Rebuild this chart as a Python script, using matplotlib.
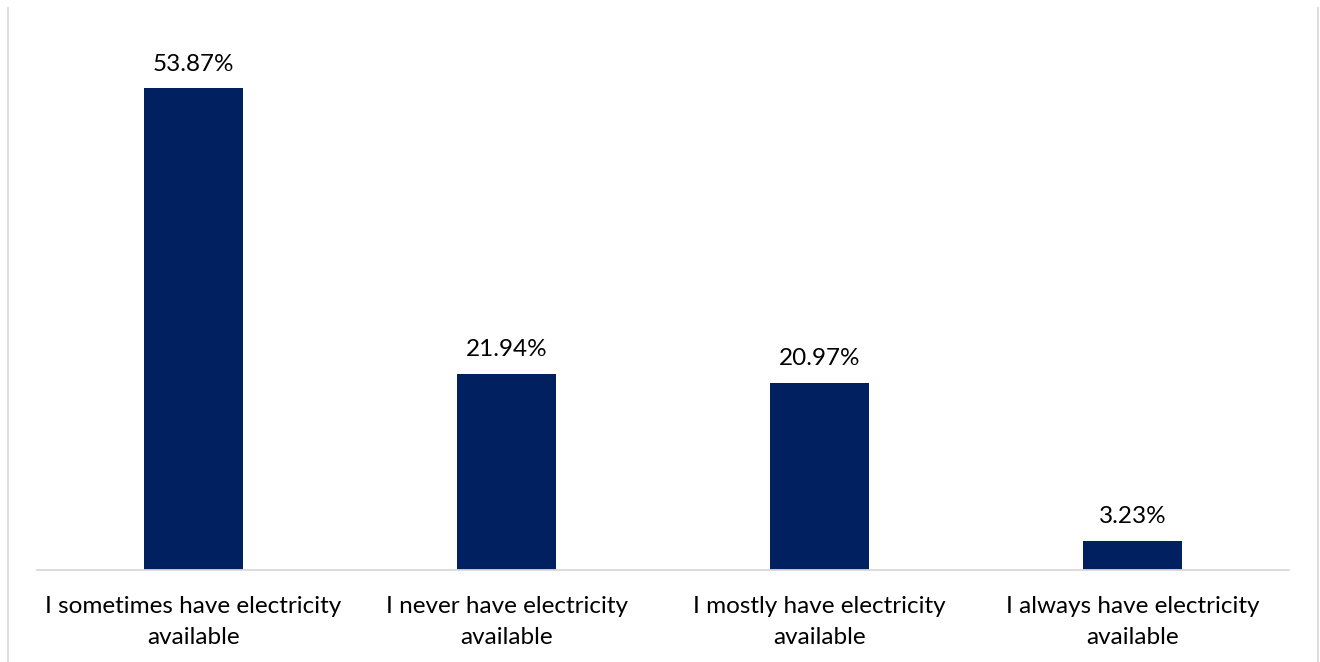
import matplotlib
matplotlib.use("Agg")
import matplotlib.pyplot as plt
from matplotlib.lines import Line2D

categories = ["I sometimes have electricity\navailable",
              "I never have electricity\navailable",
              "I mostly have electricity\navailable",
              "I always have electricity\navailable"]
values = [53.87, 21.94, 20.97, 3.23]
value_labels = ["53.87%", "21.94%", "20.97%", "3.23%"]

plt.rcParams['font.family'] = ['Lato', 'DejaVu Sans']

W, H = 1320, 662
fig = plt.figure(figsize=(W/100, H/100), dpi=100)
ax = fig.add_axes([37/W, (H-570)/H, (1289-37)/W, (570-33.6)/H])

x = range(len(values))
bars = ax.bar(x, values, width=0.316, color="#002060", zorder=2)
ax.set_xlim(-0.5, len(values)-0.5)
ax.set_ylim(0, 60)

for xi, v, lab in zip(x, values, value_labels):
    ax.annotate(lab, (xi, v), xytext=(0, 10), textcoords="offset points",
                ha="center", va="bottom", fontsize=17.5, color="#000000",
                annotation_clip=False)

ax.set_xticks(list(x))
ax.set_xticklabels(categories, fontsize=17.5, color="#000000", linespacing=1.6)
ax.tick_params(axis="x", length=0, pad=18.5)
ax.set_yticks([])
for s in ["top", "right", "left"]:
    ax.spines[s].set_visible(False)
ax.spines["bottom"].set_color("#d9d9d9")
ax.spines["bottom"].set_linewidth(1.3)

# outer chart border (left and right edges visible)
fig.add_artist(Line2D([7.5/W, 7.5/W], [0, 1-8/H], color="#d9d9d9", lw=1.3))
fig.add_artist(Line2D([1317.5/W, 1317.5/W], [0, 1-8/H], color="#d9d9d9", lw=1.3))

fig.savefig("out.png", dpi=100, facecolor="white")
